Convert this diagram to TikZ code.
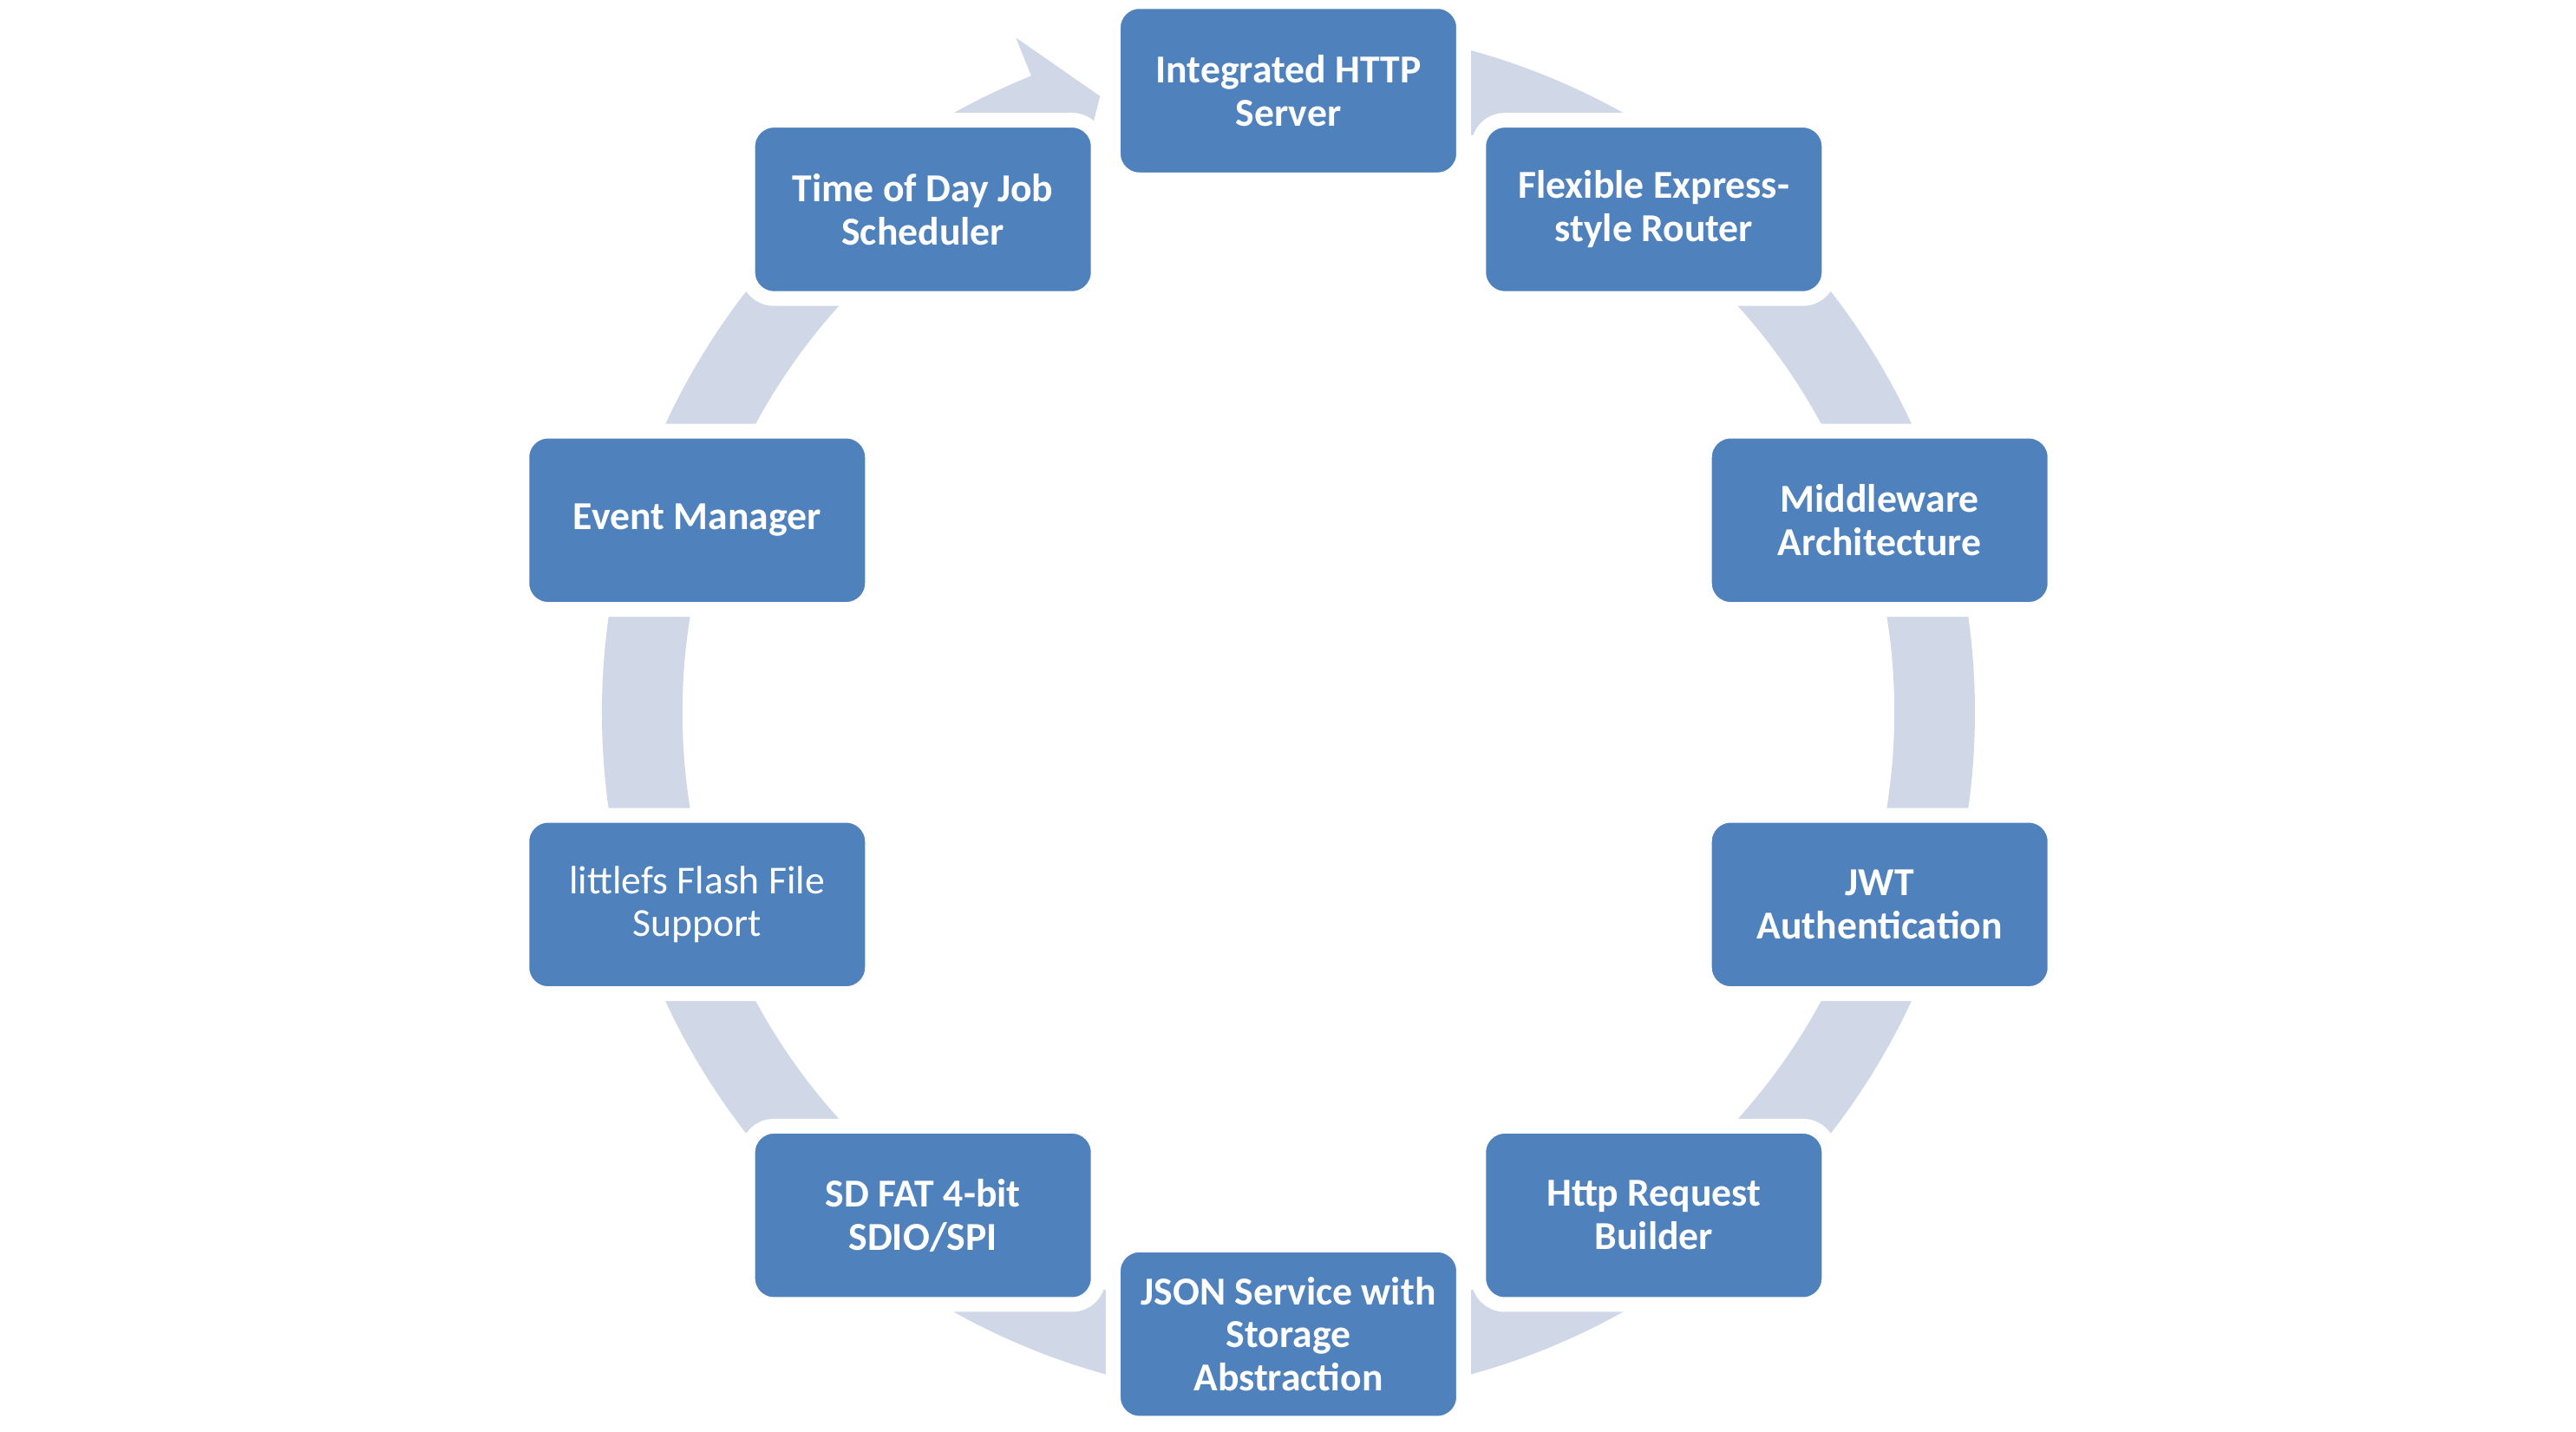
\documentclass[tikz,border=0pt]{standalone}
\usepackage{fontspec}
\setmainfont{Carlito}
\definecolor{boxblue}{RGB}{79,129,189}
\definecolor{ringgray}{RGB}{208,216,232}

\begin{document}
\begin{tikzpicture}[
		box/.style={rectangle, rounded corners=0.3cm, fill=boxblue, draw=white, line width=0.17cm, minimum width=4.04cm, minimum height=2.055cm, inner sep=0pt, text=white, align=center, font=\bfseries\fontsize{13}{14.2}\selectfont},
		boxlight/.style={box, font=\fontsize{13}{14.2}\selectfont}
	]
		\useasboundingbox (-14.855, -8.287) rectangle (14.845, 8.213);
		\fill[ringgray] (90:7.915) arc[start angle=90, end angle=-248, radius=7.915] -- (112:8.39) -- (107:7.43) -- (112:6.51) -- (112:6.985) arc[start angle=112, end angle=450, radius=6.985] -- cycle;
		\node[box] (http) at (90:7.168) {Integrated HTTP\\Server};
		\node[box] (router) at (54:7.168) {Flexible Express-\\style Router};
		\node[box] (middleware) at (18:7.168) {Middleware\\Architecture};
		\node[box] (jwt) at (-18:7.168) {JWT\\Authentication};
		\node[box] (request) at (-54:7.168) {Http Request\\Builder};
		\node[box] (json) at (-90:7.168) {JSON Service with\\Storage\\Abstraction};
		\node[box] (sdfat) at (-126:7.168) {SD FAT 4-bit\\SDIO/SPI};
		\node[boxlight] (littlefs) at (-162:7.168) {littlefs Flash File\\Support};
		\node[box] (events) at (162:7.168) {Event Manager};
		\node[box] (scheduler) at (126:7.168) {Time of Day Job\\Scheduler};
	\end{tikzpicture}
\end{document}
